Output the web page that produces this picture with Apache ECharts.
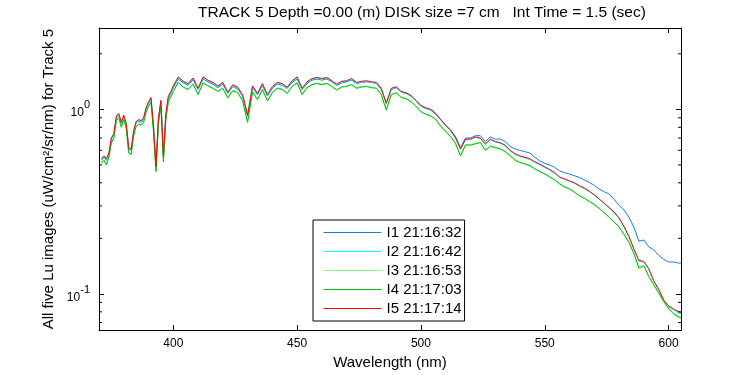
<!DOCTYPE html>
<html><head><meta charset="utf-8">
<script src="https://cdn.jsdelivr.net/npm/echarts@6/dist/echarts.min.js"></script>
<style>html,body{margin:0;padding:0;background:#fff}#c{width:750px;height:375px}</style>
</head><body><div id="c"></div><script>
const wavelength = [371,372,373,374,375,376,377,378,379,380,381,382,383,384,385,386,387,388,389,390,391,392,393,394,395,396,397,398,399,400,
402,404,406,408,410,412,414,416,418,420,422,424,426,428,430,432,434,436,438,440,442,444,446,448,450,452,454,456,458,460,462,464,466,468,470,472,474,476,478,480,482,484,486,488,490,492,494,496,498,500,502,504,506,508,510,512,514,516,518,520,522,524,526,528,530,532,534,536,538,540,542,544,546,548,550,552,554,556,558,560,562,564,566,568,570,572,574,576,578,580,582,584,586,588,590,592,594,596,598,600,602,604,605];

const I1 = [0.53,0.55,0.53,0.57,0.69,0.73,0.90,0.93,0.84,0.91,0.83,0.61,0.60,0.75,0.85,0.86,0.85,0.88,1.00,1.08,1.13,0.80,0.50,0.88,1.10,0.57,0.93,1.15,1.22,1.31,
1.46,1.39,1.35,1.45,1.28,1.46,1.41,1.37,1.31,1.37,1.22,1.33,1.29,1.18,0.92,1.31,1.20,1.35,1.18,1.30,1.37,1.35,1.30,1.40,1.46,1.28,1.38,1.44,1.46,1.44,1.46,1.41,1.35,1.39,1.41,1.44,1.38,1.40,1.41,1.40,1.38,1.28,1.08,1.28,1.31,1.24,1.22,1.18,1.11,1.04,1.01,0.99,0.94,0.88,0.82,0.77,0.71,0.62,0.70,0.70,0.72,0.72,0.67,0.71,0.69,0.69,0.67,0.63,0.61,0.60,0.59,0.58,0.55,0.525,0.51,0.50,0.485,0.464,0.455,0.446,0.437,0.428,0.415,0.402,0.388,0.37,0.358,0.348,0.325,0.302,0.285,0.26,0.23,0.193,0.196,0.18,0.173,0.162,0.154,0.149,0.149,0.147,0.147];

const I2 = [0.535,0.555,0.535,0.575,0.695,0.735,0.91,0.94,0.845,0.92,0.835,0.615,0.605,0.765,0.855,0.875,0.865,0.895,1.01,1.09,1.15,0.81,0.49,0.89,1.11,0.56,0.94,1.17,1.24,1.33,
1.49,1.41,1.37,1.47,1.29,1.49,1.43,1.39,1.33,1.39,1.23,1.35,1.31,1.19,0.93,1.33,1.21,1.37,1.19,1.32,1.39,1.37,1.31,1.42,1.49,1.29,1.40,1.46,1.48,1.46,1.48,1.42,1.36,1.41,1.42,1.46,1.39,1.41,1.42,1.40,1.39,1.29,1.08,1.29,1.32,1.24,1.22,1.18,1.11,1.04,1.01,0.99,0.945,0.875,0.815,0.765,0.695,0.61,0.685,0.685,0.705,0.695,0.645,0.685,0.665,0.655,0.635,0.595,0.57,0.555,0.545,0.535,0.515,0.50,0.484,0.468,0.451,0.427,0.417,0.407,0.397,0.383,0.372,0.357,0.342,0.325,0.308,0.292,0.276,0.256,0.230,0.203,0.174,0.151,0.149,0.136,0.117,0.105,0.092,0.085,0.082,0.079,0.078];

const I3 = [0.515,0.535,0.505,0.555,0.665,0.705,0.875,0.905,0.805,0.885,0.795,0.585,0.575,0.725,0.815,0.835,0.825,0.855,0.965,1.045,1.095,0.765,0.465,0.845,1.055,0.525,0.885,1.105,1.175,1.255,
1.41,1.33,1.29,1.38,1.21,1.40,1.35,1.31,1.26,1.31,1.16,1.27,1.24,1.12,0.86,1.25,1.14,1.29,1.12,1.24,1.31,1.29,1.23,1.34,1.40,1.21,1.32,1.37,1.39,1.37,1.39,1.34,1.28,1.33,1.34,1.37,1.31,1.33,1.34,1.32,1.31,1.21,1.00,1.21,1.24,1.17,1.15,1.11,1.05,0.975,0.945,0.925,0.885,0.815,0.765,0.715,0.655,0.565,0.645,0.645,0.655,0.665,0.605,0.635,0.625,0.615,0.595,0.565,0.535,0.518,0.508,0.498,0.478,0.463,0.449,0.433,0.418,0.397,0.383,0.372,0.357,0.342,0.332,0.318,0.307,0.292,0.277,0.262,0.247,0.232,0.212,0.191,0.166,0.139,0.143,0.125,0.113,0.102,0.092,0.084,0.079,0.076,0.075];

const I4 = [0.51,0.53,0.50,0.55,0.66,0.70,0.87,0.90,0.80,0.88,0.79,0.58,0.57,0.72,0.81,0.83,0.82,0.85,0.96,1.04,1.09,0.76,0.46,0.84,1.05,0.52,0.88,1.10,1.17,1.25,
1.40,1.32,1.28,1.37,1.20,1.39,1.34,1.30,1.25,1.30,1.15,1.26,1.23,1.11,0.85,1.24,1.13,1.28,1.11,1.23,1.30,1.28,1.22,1.33,1.39,1.20,1.31,1.36,1.38,1.36,1.38,1.33,1.27,1.32,1.33,1.36,1.30,1.32,1.33,1.31,1.30,1.20,0.99,1.20,1.23,1.16,1.14,1.10,1.04,0.97,0.94,0.92,0.88,0.81,0.76,0.71,0.65,0.56,0.64,0.64,0.65,0.66,0.60,0.63,0.62,0.61,0.59,0.56,0.53,0.515,0.505,0.495,0.475,0.46,0.446,0.43,0.415,0.394,0.38,0.37,0.355,0.34,0.33,0.316,0.305,0.29,0.275,0.26,0.245,0.23,0.21,0.19,0.165,0.138,0.142,0.124,0.112,0.101,0.091,0.083,0.078,0.075,0.074];

const I5 = [0.54,0.56,0.54,0.58,0.70,0.74,0.92,0.95,0.85,0.93,0.84,0.62,0.61,0.77,0.86,0.88,0.87,0.90,1.02,1.10,1.16,0.82,0.49,0.90,1.12,0.56,0.95,1.18,1.25,1.34,
1.50,1.42,1.38,1.48,1.30,1.50,1.44,1.40,1.34,1.40,1.24,1.36,1.32,1.20,0.93,1.34,1.22,1.38,1.20,1.33,1.40,1.38,1.32,1.43,1.50,1.30,1.41,1.47,1.49,1.47,1.49,1.43,1.37,1.42,1.43,1.47,1.40,1.42,1.43,1.41,1.40,1.30,1.08,1.30,1.33,1.25,1.23,1.19,1.12,1.05,1.02,1.00,0.95,0.88,0.82,0.77,0.70,0.61,0.69,0.69,0.71,0.70,0.65,0.69,0.67,0.66,0.64,0.60,0.575,0.56,0.55,0.54,0.52,0.505,0.488,0.472,0.455,0.43,0.42,0.41,0.40,0.386,0.375,0.36,0.345,0.327,0.31,0.294,0.278,0.258,0.232,0.205,0.175,0.152,0.150,0.137,0.118,0.106,0.093,0.086,0.083,0.080,0.079];

const seriesNames = ['I1 21:16:32','I2 21:16:42','I3 21:16:53','I4 21:17:03','I5 21:17:14'];
const seriesValues = [I1, I2, I3, I4, I5];
const seriesColors = ['#0a7ff0','#00ffff','#80ff80','#00c000','#ff0000'];
const minorTickValues = [0.07,0.08,0.09,0.2,0.3,0.4,0.5,0.6,0.7,0.8,0.9,2];
const xMin = 370, xMax = 605, yMin = 0.0637, yMax = 2.76;
const titleText = 'TRACK 5 Depth =0.00 (m) DISK size =7 cm   Int Time = 1.5 (sec)';
const xName = 'Wavelength (nm)';
const yName = 'All five Lu images (uW/cm\u00B2/sr/nm) for Track 5';

const FONT = 'Liberation Sans, Arial, sans-serif';
const chart = echarts.init(document.getElementById('c'), null, {renderer: 'canvas'});

const lineSeries = seriesNames.map((name, i) => ({
  name, type: 'line', xAxisIndex: 0, yAxisIndex: 0,
  data: wavelength.map((w, k) => [w, seriesValues[i][k]]),
  symbol: 'none', showSymbol: false,
  lineStyle: {color: seriesColors[i], width: 1},
  itemStyle: {color: seriesColors[i]},
  emphasis: {disabled: true}
}));

const minorSeries = {
  type: 'custom', xAxisIndex: 0, yAxisIndex: 0, silent: true, clip: false, z: 5,
  data: minorTickValues.map(v => [xMin, v]),
  renderItem: (params, api) => {
    const v = api.value(1);
    const pL = api.coord([xMin, v]);
    const pR = api.coord([xMax, v]);
    return {type: 'group', children: [
      {type: 'line', shape: {x1: pL[0], y1: pL[1], x2: pL[0] + 3, y2: pL[1]}, style: {stroke: '#000', lineWidth: 1}},
      {type: 'line', shape: {x1: pR[0], y1: pR[1], x2: pR[0] - 3, y2: pR[1]}, style: {stroke: '#000', lineWidth: 1}}
    ]};
  }
};

const axisLineStyle = {show: true, lineStyle: {color: '#000', width: 1}};
const yLabelFormatter = v => {
  const e = Math.log10(v); const r = Math.round(e);
  if (Math.abs(e - r) > 1e-6) return '';
  return '{b|10}{s|' + r + '}';
};

chart.setOption({
  animation: false,
  backgroundColor: '#fff',
  title: {text: titleText, left: 422, top: 5, textAlign: 'center', padding: 0,
    textStyle: {fontFamily: FONT, fontSize: 15.5, fontWeight: 'normal', color: '#000'}},
  legend: {
    data: seriesNames, orient: 'vertical', left: 313, top: 220,
    borderColor: '#000', borderWidth: 1, padding: [5, 3, 5, 10],
    itemWidth: 58, itemHeight: 15, itemGap: 4,
    itemStyle: {opacity: 0, borderWidth: 0},
    lineStyle: {width: 1},
    textStyle: {fontFamily: FONT, fontSize: 15, color: '#000'},
    backgroundColor: '#fff', selectedMode: false
  },
  grid: {left: 99, right: 69, top: 28, bottom: 43, containLabel: false},
  xAxis: [
    {type: 'value', min: xMin, max: xMax, position: 'bottom',
     name: xName, nameLocation: 'middle', nameGap: 19,
     nameTextStyle: {fontFamily: FONT, fontSize: 15, color: '#000'},
     axisLine: axisLineStyle, splitLine: {show: false},
     axisTick: {show: true, inside: true, length: 5, lineStyle: {color: '#000'}},
     axisLabel: {fontFamily: FONT, fontSize: 12, color: '#000', margin: 8,
       formatter: v => (v % 50 === 0 ? String(v) : '')}},
    {type: 'value', min: xMin, max: xMax, position: 'top',
     axisLine: axisLineStyle, splitLine: {show: false},
     axisTick: {show: true, inside: true, length: 5, lineStyle: {color: '#000'}},
     axisLabel: {show: false}}
  ],
  yAxis: [
    {type: 'log', logBase: 10, min: yMin, max: yMax, position: 'left',
     name: yName, nameLocation: 'middle', nameGap: 42,
     nameTextStyle: {fontFamily: FONT, fontSize: 15, color: '#000'},
     axisLine: axisLineStyle, splitLine: {show: false}, minorTick: {show: false},
     axisTick: {show: true, inside: true, length: 5, lineStyle: {color: '#000'}},
     axisLabel: {margin: 9, formatter: yLabelFormatter,
       rich: {
         b: {fontFamily: FONT, fontSize: 12, color: '#000', verticalAlign: 'bottom'},
         s: {fontFamily: FONT, fontSize: 11, color: '#000', verticalAlign: 'bottom', padding: [0, 0, 8, 0]}
       }}},
    {type: 'log', logBase: 10, min: yMin, max: yMax, position: 'right',
     axisLine: axisLineStyle, splitLine: {show: false},
     axisTick: {show: true, inside: true, length: 5, lineStyle: {color: '#000'}},
     axisLabel: {show: false}}
  ],
  series: lineSeries.concat([minorSeries])
});
</script></body></html>
